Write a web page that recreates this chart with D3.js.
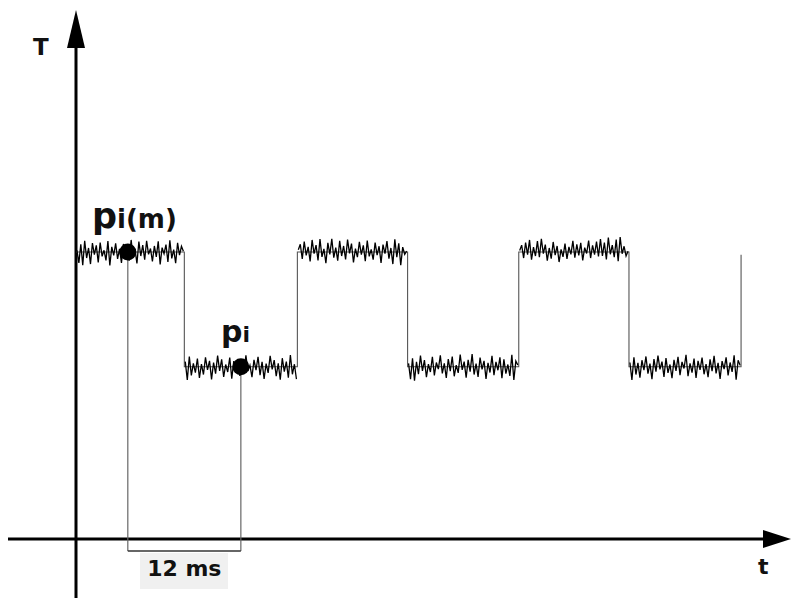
<!DOCTYPE html>
<html>
<head>
<meta charset="utf-8">
<script src="https://cdn.jsdelivr.net/npm/d3@7"></script>
<style>
  html, body { margin: 0; padding: 0; background: #fff; }
  svg { display: block; }
  text { font-family: "DejaVu Sans", Verdana, sans-serif; font-weight: bold; fill: #111; }
</style>
</head>
<body>
<div id="chart"></div>
<script>
// edges of the square wave (ms) and the level on each half period
let edges = [0, 11.5, 23.5, 35.2, 47.0, 58.7, 70.6];
let levels = [100, 60, 100, 60, 100, 60];

// noise on each plateau, same units as T
let noise = [
  [0.6,-3.8,2.7,-4.6,3.9,-2.1,1.4,-4.2,3.1,-0.9,2.3,-3.6,3.3,-1.5,0.6,-2.9,3.8,-4.7,1.8,-1.2,3.0,-2.4,1.1,-3.8,2.8,-0.5,1.7,-3.0,4.2,-1.8,0.9,-4.0,3.6,-1.4,2.4,-2.7,3.9,-0.8,1.2,-3.3,2.1,-1.7,3.7,-4.3,1.5,-0.6,2.6,-3.5,4.1,-2.2,0.8,-3.9,3.2,-1.1,2.0,0.3],
  [1.8,-4.6,3.6,-3.0,1.2,-2.0,2.9,-3.9,0.9,-2.7,3.3,-1.1,2.1,-4.4,1.5,-2.4,3.9,-1.4,2.6,-3.5,0.8,-1.8,3.2,-4.1,2.0,-0.6,2.7,-3.2,1.4,-2.3,4.0,-1.5,0.5,-3.6,2.4,-1.2,3.5,-2.9,1.7,-4.2,1.1,-2.1,3.8,-0.9,2.3,-3.3,1.2,-4.5,3.0,-1.7,1.8,-3.8,4.1,-2.6,0.9,-4.3],
  [0.8,2.7,-2.4,3.6,-1.2,1.8,-3.3,4.2,-0.6,2.4,-2.9,4.5,-1.7,1.1,-3.9,3.2,-0.8,4.6,-2.0,1.5,-3.0,3.9,-1.4,2.1,-2.6,4.3,-0.5,2.9,-3.6,1.2,-1.8,3.5,-0.9,2.3,-3.2,4.0,-1.5,0.9,-2.7,3.3,-1.1,2.0,-3.8,2.6,-0.6,3.8,-2.3,1.4,-4.2,4.4,-1.8,3.0,-4.6,1.7,-0.8,0.3],
  [1.2,-4.3,3.0,-4.8,1.7,-2.6,3.9,-1.4,2.3,-3.6,0.9,-1.8,3.5,-3.0,1.5,-0.8,4.0,-2.3,1.2,-3.9,2.7,-1.5,3.6,-3.3,0.6,-2.1,4.3,-1.1,1.8,-3.8,2.4,-1.7,4.4,-2.7,1.1,-3.5,3.2,-0.9,2.1,-4.2,1.4,-2.0,3.8,-2.9,1.7,-1.2,3.3,-4.0,2.6,-2.4,0.8,-3.2,4.2,-4.6,2.0,0.6],
  [0.5,2.4,-2.1,3.3,-0.9,4.2,-2.7,1.7,-1.4,3.8,-1.8,4.6,-0.6,2.6,-3.0,1.4,-2.3,3.5,-1.1,2.1,-3.5,0.9,-1.7,2.9,-2.4,1.8,-0.8,3.9,-2.0,2.7,-1.2,3.2,-2.9,1.5,-0.5,4.0,-2.1,2.3,-0.9,3.6,-1.5,4.5,-1.4,3.3,-2.6,5.0,-0.8,2.4,-1.8,4.3,-3.2,5.2,-0.6,2.0,-1.4,0.3],
  [1.5,-4.6,3.3,-2.7,1.4,-3.8,2.3,-1.2,3.6,-2.4,1.1,-4.3,2.7,-1.7,3.9,-0.9,1.8,-3.5,3.0,-2.1,0.8,-4.0,2.4,-1.4,3.5,-2.9,1.7,-0.6,4.2,-3.3,1.2,-2.0,2.9,-3.9,2.1,-1.1,3.2,-2.6,0.9,-3.6,2.6,-1.5,3.8,-2.3,1.4,-4.2,2.0,-0.8,3.3,-3.0,1.5,-1.8,4.0,-4.5,2.3,0.5]
];

// the two marked samples
let marks = [
  { name: "p", sub: "i(m)", t: 5.5, T: 100, lx: 92, ly: 228, fs: 35, sfs: 26 },
  { name: "p", sub: "i", t: 17.5, T: 60, lx: 221, ly: 342, fs: 30, sfs: 22 }
];
let span_label = "12 ms";
let axis_labels = { x: "t", y: "T" };

const width = 791, height = 598;
let svg = d3.select('#chart').append('svg')
  .attr('width', width)
  .attr('height', height);

let x = d3.scaleLinear([0, 75.9], [76, 791]);
let y = d3.scaleLinear([0, 100], [539, 252]);

// 坐标轴
let axes = svg.append('g').attr('stroke', '#000').attr('stroke-width', 3);
axes.append('line')
  .attr('x1', 8).attr('x2', width - 22)
  .attr('y1', y(0)).attr('y2', y(0));
axes.append('line')
  .attr('x1', x(0)).attr('x2', x(0))
  .attr('y1', height).attr('y2', 44);
svg.append('path')
  .attr('d', `M${width - 28},${y(0) - 9}L${width},${y(0)}L${width - 28},${y(0) + 9}Z`)
  .attr('fill', '#000');
svg.append('path')
  .attr('d', `M${x(0) - 9},48L${x(0)},10L${x(0) + 9},48Z`)
  .attr('fill', '#000');

svg.append('text').attr('x', 33).attr('y', 55).attr('font-size', 23).text(axis_labels.y);
svg.append('text').attr('x', 758).attr('y', 574).attr('font-size', 22).text(axis_labels.x);

// drop lines and bracket
let drop = svg.append('g').attr('stroke', '#666').attr('stroke-width', 1.2).attr('fill', 'none');
marks.forEach(m => {
  drop.append('line')
    .attr('x1', x(m.t)).attr('x2', x(m.t))
    .attr('y1', y(m.T)).attr('y2', 551);
});
drop.append('line')
  .attr('x1', x(marks[0].t)).attr('x2', x(marks[1].t))
  .attr('y1', 551).attr('y2', 551)
  .attr('stroke', '#333').attr('stroke-width', 1.5);

svg.append('rect')
  .attr('x', 140).attr('y', 553).attr('width', 88).attr('height', 36)
  .attr('fill', '#f0f0f0');
svg.append('text')
  .attr('x', (x(marks[0].t) + x(marks[1].t)) / 2).attr('y', 576)
  .attr('text-anchor', 'middle').attr('font-size', 22)
  .text(span_label);

// square wave: plateaus + edges
let wave = svg.append('g').attr('fill', 'none');
let edgePts = [];
levels.forEach((lv, i) => {
  edgePts.push([edges[i], lv], [edges[i + 1], lv]);
});
edgePts.push([edges[edges.length - 1], 99]);
wave.append('path')
  .attr('d', d3.line().x(d => x(d[0])).y(d => y(d[1]))(edgePts))
  .attr('stroke', '#555').attr('stroke-width', 1.1);

noise.forEach((arr, i) => {
  let t0 = edges[i] + 0.1, t1 = edges[i + 1] - 0.1;
  let step = (t1 - t0) / (arr.length - 1);
  let pts = arr.map((v, k) => [t0 + k * step, levels[i] + v]);
  wave.append('path')
    .attr('d', d3.line().x(d => x(d[0])).y(d => y(d[1]))(pts))
    .attr('stroke', '#000').attr('stroke-width', 1.3);
});

// marked points and labels
marks.forEach(m => {
  svg.append('circle')
    .attr('cx', x(m.t)).attr('cy', y(m.T)).attr('r', 8.5)
    .attr('fill', '#000');
  let lab = svg.append('text').attr('x', m.lx).attr('y', m.ly);
  lab.append('tspan').attr('font-size', m.fs).text(m.name);
  lab.append('tspan').attr('font-size', m.sfs).text(m.sub);
});
</script>
</body>
</html>
